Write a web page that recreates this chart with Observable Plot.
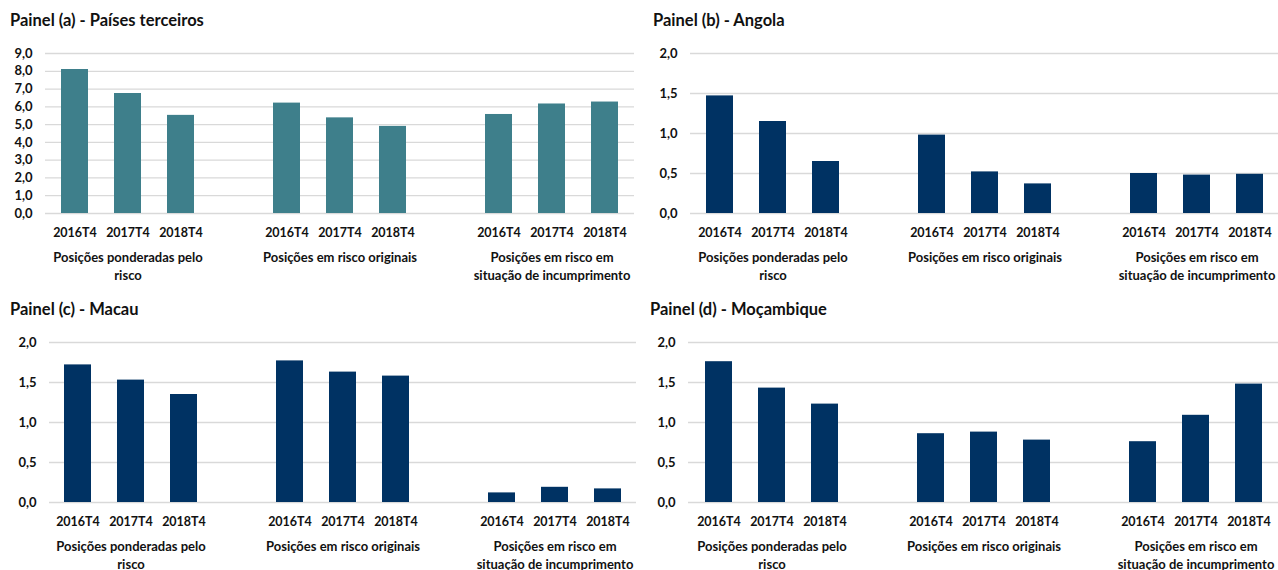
<!DOCTYPE html>
<html><head><meta charset="utf-8">
<script src="https://cdn.jsdelivr.net/npm/d3@7"></script>
<script src="https://cdn.jsdelivr.net/npm/@observablehq/plot@0.6"></script>
<style>
html,body{margin:0;padding:0;background:#fff;}
body{width:1278px;height:570px;position:relative;overflow:hidden;font-family:Lato,"Open Sans",sans-serif;}
.panel{position:absolute;width:639px;height:289px;}
.title{position:absolute;left:10px;top:10px;font-size:16.5px;font-weight:700;color:#111;white-space:nowrap;}
.panel svg{position:absolute;left:0;top:35px;overflow:visible;}
</style></head>
<body>
<script>
// ---- data ----
const periods = ["2016T4", "2017T4", "2018T4"];
const groups = ["Posições ponderadas pelo\nrisco", "Posições em risco originais", "Posições em risco em\nsituação de incumprimento"];
const titles = ["Painel (a) - Países terceiros", "Painel (b) - Angola", "Painel (c) - Macau", "Painel (d) - Moçambique"];
const valuesA = [8.10, 6.75, 5.52, 6.21, 5.38, 4.90, 5.57, 6.16, 6.27];
const valuesB = [1.47, 1.15, 0.65, 0.98, 0.52, 0.37, 0.50, 0.48, 0.49];
const valuesC = [1.72, 1.53, 1.35, 1.77, 1.63, 1.58, 0.12, 0.19, 0.17];
const valuesD = [1.76, 1.43, 1.23, 0.86, 0.88, 0.78, 0.76, 1.09, 1.48];
const yTicksA = [0, 1, 2, 3, 4, 5, 6, 7, 8, 9];
const yTicksOther = [0, 0.5, 1, 1.5, 2];

// ---- layout ----
const panels = [
  {values: valuesA, title: titles[0], color: "#3e7f8b", yMax: 9, ticks: yTicksA, left: 0, top: 0, ml: 45, mr: 5},
  {values: valuesB, title: titles[1], color: "#003263", yMax: 2, ticks: yTicksOther, left: 640, top: 0, ml: 50, mr: 0, tx: 13},
  {values: valuesC, title: titles[2], color: "#003263", yMax: 2, ticks: yTicksOther, left: 0, top: 289, ml: 49, mr: 3},
  {values: valuesD, title: titles[3], color: "#003263", yMax: 2, ticks: yTicksOther, left: 640, top: 289, ml: 48, mr: 0, tx: 10}
];

const keys = [];
const domain = [];
groups.forEach((g, gi) => {
  periods.forEach(p => { const k = gi + "|" + p; keys.push(k); domain.push(k); });
  if (gi < groups.length - 1) domain.push("gap" + gi);
});
const groupKeys = groups.map((g, gi) => gi + "|" + periods[1]);
const fmt = d => d.toFixed(1).replace(".", ",");

panels.forEach(P => {
  const div = document.createElement("div");
  div.className = "panel";
  div.style.left = P.left + "px";
  div.style.top = P.top + "px";
  const t = document.createElement("div");
  t.className = "title";
  t.textContent = P.title;
  if (P.tx) t.style.left = P.tx + "px";
  div.appendChild(t);
  const rows = keys.map((k, i) => ({key: k, value: P.values[i]}));
  const chart = Plot.plot({
    width: 639,
    height: 254,
    marginTop: 18,
    marginBottom: 76,
    marginLeft: P.ml,
    marginRight: P.mr,
    style: {fontFamily: "Lato, sans-serif", fontSize: "13px", fontWeight: "700", color: "#111", background: "transparent"},
    x: {type: "band", domain, paddingInner: 0.5, paddingOuter: 0.25},
    y: {domain: [0, P.yMax], label: null},
    marks: [
      Plot.gridY(P.ticks, {stroke: "#d9d9d9", strokeOpacity: 1, strokeWidth: 1.3}),
      Plot.barY(rows, {x: "key", y: "value", fill: P.color}),
      Plot.axisY(P.ticks, {tickSize: 0, tickPadding: 13, tickFormat: fmt, label: null, fontSize: 13}),
      Plot.axisX(keys, {tickSize: 0, tickPadding: 15, tickFormat: k => k.split("|")[1], label: null, fontSize: 12.5}),
      Plot.text(groups, {x: (d, i) => groupKeys[i], frameAnchor: "bottom", lineAnchor: "top", dy: 36, lineHeight: 1.38, text: d => d, fontSize: 13, fontWeight: 700})
    ]
  });
  div.appendChild(chart);
  document.body.appendChild(div);
});
</script>
</body></html>
